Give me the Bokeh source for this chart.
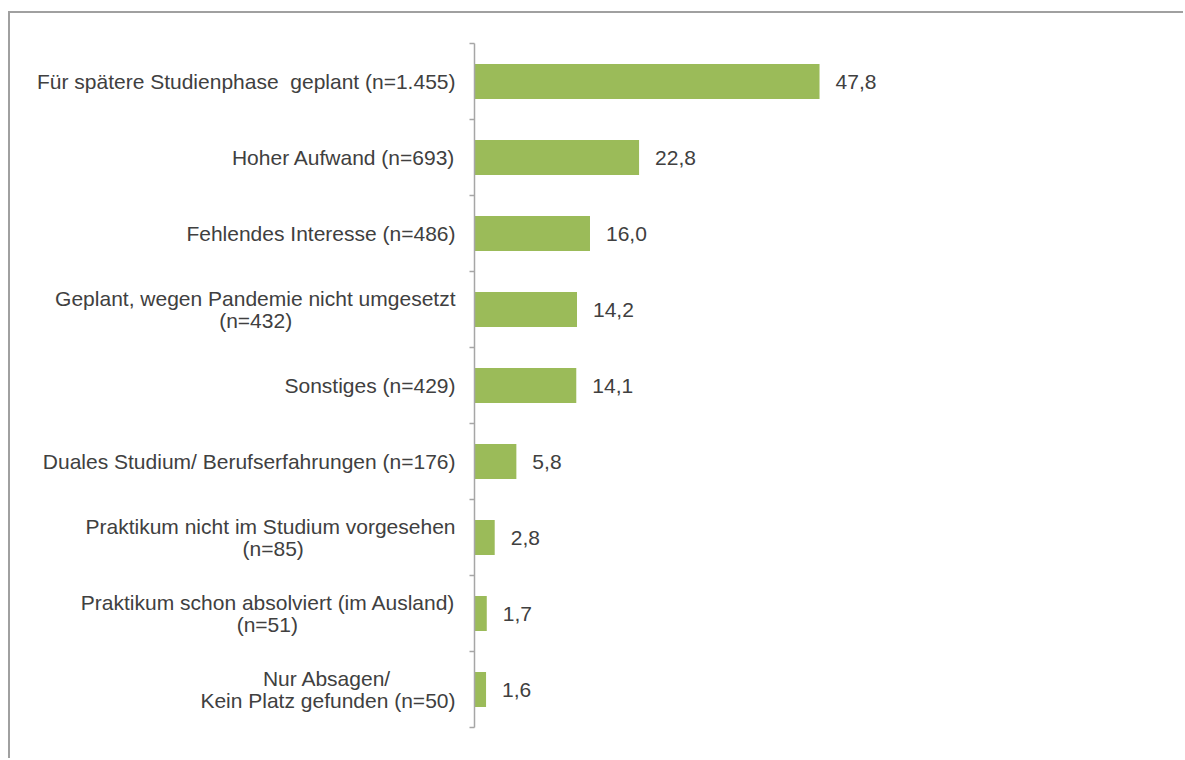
from bokeh.plotting import figure
from bokeh.models import Range1d, FixedTicker, ColumnDataSource
from bokeh.core.properties import value
from bokeh.embed import file_html
from bokeh.resources import INLINE

# Gründe, kein Praktikum zu absolvieren (Anteile in %)
categories = [
    "Für spätere Studienphase\u00a0 geplant (n=1.455)",
    "Hoher Aufwand (n=693)",
    "Fehlendes Interesse (n=486)",
    "Geplant, wegen Pandemie nicht umgesetzt\n(n=432)",
    "Sonstiges (n=429)",
    "Duales Studium/ Berufserfahrungen (n=176)",
    "Praktikum nicht im Studium vorgesehen\n(n=85)",
    "Praktikum schon absolviert (im Ausland)\n(n=51)",
    "Nur Absagen/\nKein Platz gefunden (n=50)",
]
shares = [47.8, 22.8, 16.0, 14.2, 14.1, 5.8, 2.8, 1.7, 1.6]

FONT = "Liberation Sans"
FONT_PX = 21
TEXT_COLOR = "#404040"
BAR_COLOR = "#9BBB59"
AXIS_COLOR = "#A6A6A6"

# approximate advance widths (1/1000 em) of the Arial-metric font,
# used to centre the lines of two-line tick labels
_W = {" ": 278, "\u00a0": 278, "(": 333, ")": 333, ",": 278, ".": 278, "/": 278,
      "=": 584, "-": 333}
_W.update({d: 556 for d in "0123456789"})
_W.update(dict(zip("ABCDEFGHIJKLMNOPQRSTUVWXYZ",
                   [667, 667, 722, 722, 667, 611, 778, 722, 278, 500, 667, 556, 833,
                    722, 778, 667, 778, 722, 667, 611, 722, 667, 944, 667, 667, 611])))
_W.update(dict(zip("abcdefghijklmnopqrstuvwxyz",
                   [556, 556, 500, 556, 556, 278, 556, 556, 222, 222, 500, 222, 833,
                    556, 556, 556, 556, 333, 500, 278, 556, 500, 722, 500, 500, 500])))
_W.update({"ä": 556, "ö": 556, "ü": 556})


def text_width(s):
    return sum(_W.get(ch, 556) for ch in s)


def centre_lines(label):
    """Pad shorter lines with no-break spaces so right-aligned lines look centred."""
    lines = label.split("\n")
    if len(lines) == 1:
        return label
    widest = max(text_width(l) for l in lines)
    out = []
    for l in lines:
        pad = round((widest - text_width(l)) / 2 / _W["\u00a0"])
        out.append(l + "\u00a0" * pad)
    return "\n".join(out)


n = len(categories)
centers = [i + 0.5 for i in range(n)]
bounds = list(range(n + 1))

src = ColumnDataSource(dict(
    y=centers,
    share=shares,
    label=[f"{v:.1f}".replace(".", ",") for v in shares],
))

p = figure(
    width=1175, height=747,
    x_range=Range1d(0, 98.5),
    y_range=Range1d(n, 0),
    output_backend="svg",
    toolbar_location=None,
    min_border_left=464, min_border_right=0,
    min_border_top=30, min_border_bottom=33,
    styles={
        "margin-left": "8px",
        "margin-top": "11px",
        "border-top": "2px solid #A0A0A0",
        "border-left": "2px solid #A0A0A0",
    },
)

p.hbar(y="y", left=0, right="share", height=0.46, source=src,
       fill_color=BAR_COLOR, line_color=None)

p.text(x="share", y="y", text="label", source=src,
       x_offset=16, text_baseline="middle", text_align="left",
       text_font=value(FONT), text_font_size=f"{FONT_PX}px", text_color=TEXT_COLOR)

# category axis: labels at band centres, short ticks at band boundaries
yax = p.yaxis[0]
yax.ticker = FixedTicker(ticks=centers, minor_ticks=bounds)
yax.major_label_overrides = {c: centre_lines(lab) for c, lab in zip(centers, categories)}
yax.major_tick_line_color = None
yax.major_tick_in = 0
yax.major_tick_out = 0
yax.minor_tick_in = 0
yax.minor_tick_out = 5
yax.minor_tick_line_color = AXIS_COLOR
yax.minor_tick_line_width = 1.5
yax.axis_line_color = AXIS_COLOR
yax.axis_line_width = 1.5
yax.major_label_standoff = 14
yax.major_label_text_font = FONT
yax.major_label_text_font_size = f"{FONT_PX}px"
yax.major_label_text_color = TEXT_COLOR
yax.major_label_text_line_height = 0.95

p.xaxis.visible = False
p.xgrid.visible = False
p.ygrid.visible = False
p.outline_line_color = None
p.background_fill_color = "white"
p.border_fill_color = "white"

open("out.html", "w").write(file_html(p, INLINE))
